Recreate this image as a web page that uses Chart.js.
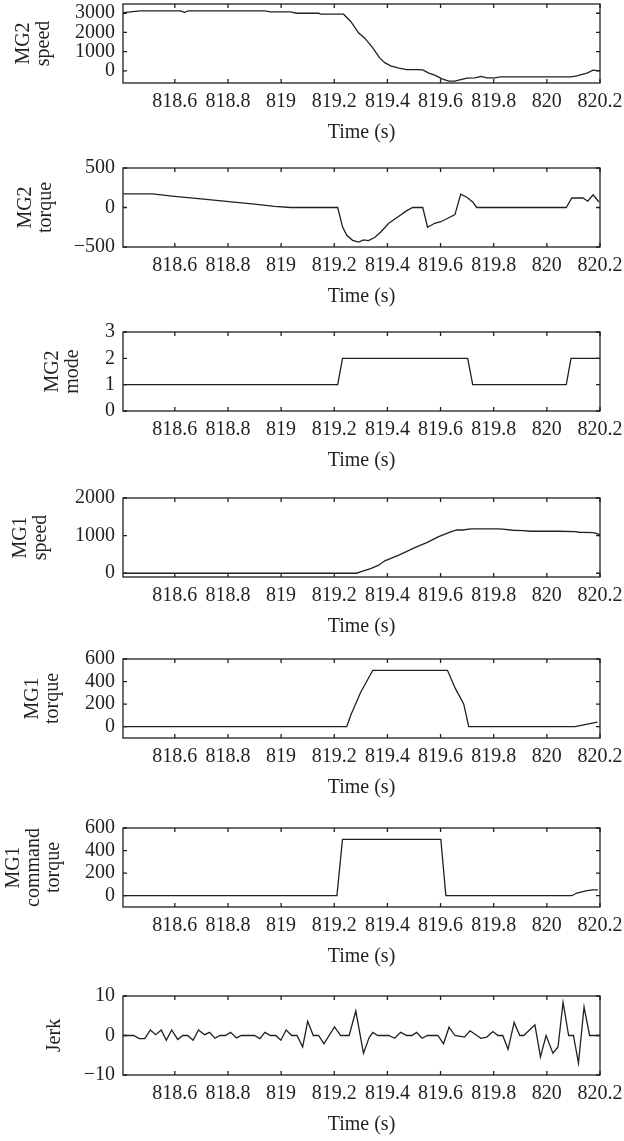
<!DOCTYPE html>
<html>
<head>
<meta charset="utf-8">
<script src="https://cdn.jsdelivr.net/npm/chart.js@4"></script>
<style>
    body { margin: 0; background: #fff; }
    #wrap { position: relative; width: 624px; height: 1141px; overflow: hidden; }
    #wrap canvas { position: absolute; left: 0; }
</style>
</head>
<body>
<div id="wrap"></div>
<script>
// time axis
const xMin = 818.405;
const xMax = 820.2;
const xTicks = [818.6, 818.8, 819, 819.2, 819.4, 819.6, 819.8, 820, 820.2];

// MG2 speed
const mg2SpeedT = [818.406, 818.47, 818.621, 818.636, 818.651, 818.938, 818.96, 819.036, 819.058, 819.141, 819.149, 819.235, 819.262, 819.292, 819.314, 819.345, 819.37, 819.39, 819.412, 819.443, 819.473, 819.51, 819.533, 819.556, 819.578, 819.608, 819.631, 819.654, 819.676, 819.699, 819.729, 819.752, 819.774, 819.804, 819.827, 820.091, 820.113, 820.151, 820.174, 820.2];
const mg2Speed = [3030, 3120, 3120, 3050, 3120, 3120, 3070, 3070, 3000, 3000, 2950, 2950, 2570, 1970, 1715, 1200, 690, 430, 260, 140, 70, 70, 50, -120, -220, -430, -530, -530, -460, -380, -360, -290, -360, -360, -310, -310, -260, -120, 35, 0];
const mg2SpeedTicks = [0, 1000, 2000, 3000];

// MG2 torque
const mg2TorqueT = [818.406, 818.516, 818.598, 818.689, 818.794, 818.9, 818.975, 819.036, 819.213, 819.231, 819.247, 819.269, 819.292, 819.31, 819.329, 819.352, 819.375, 819.405, 819.443, 819.473, 819.495, 819.533, 819.551, 819.578, 819.601, 819.631, 819.654, 819.676, 819.699, 819.721, 819.736, 820.073, 820.094, 820.136, 820.154, 820.174, 820.196];
const mg2Torque = [172, 172, 142, 112, 77, 43, 13, 0, 0, -245, -352, -416, -438, -410, -420, -380, -310, -200, -110, -40, 0, 0, -250, -200, -180, -130, -90, 170, 130, 70, 0, 0, 120, 120, 80, 160, 70];
const mg2TorqueTicks = [-500, 0, 500];

// MG2 mode
const mg2ModeT = [818.406, 819.213, 819.231, 819.702, 819.721, 820.073, 820.091, 820.2];
const mg2Mode = [1, 1, 2, 2, 1, 1, 2, 2];
const mg2ModeTicks = [0, 1, 2, 3];

// MG1 speed
const mg1SpeedT = [818.406, 819.284, 819.307, 819.337, 819.367, 819.39, 819.443, 819.503, 819.548, 819.593, 819.638, 819.661, 819.684, 819.714, 819.819, 819.834, 819.872, 819.91, 819.94, 820.045, 820.106, 820.121, 820.174, 820.189, 820.2];
const mg1Speed = [0, 0, 54, 125, 214, 330, 482, 679, 812, 973, 1098, 1150, 1150, 1180, 1180, 1170, 1143, 1134, 1116, 1116, 1107, 1090, 1080, 1054, 1018];
const mg1SpeedTicks = [0, 1000, 2000];

// MG1 torque
const mg1TorqueT = [818.406, 819.247, 819.262, 819.299, 819.345, 819.626, 819.654, 819.687, 819.706, 820.106, 820.19];
const mg1Torque = [0, 0, 101, 303, 500, 500, 346, 202, 0, 0, 40];
const mg1TorqueTicks = [0, 200, 400, 600];

// MG1 command torque
const mg1CmdT = [818.406, 819.21, 819.231, 819.601, 819.62, 820.094, 820.113, 820.151, 820.174, 820.192];
const mg1Cmd = [0, 0, 500, 500, 0, 0, 24, 45, 51, 51];
const mg1CmdTicks = [0, 200, 400, 600];

// jerk
const jerkT = [818.406, 818.445, 818.466, 818.487, 818.508, 818.528, 818.549, 818.568, 818.588, 818.611, 818.63, 818.648, 818.669, 818.689, 818.712, 818.731, 818.751, 818.77, 818.79, 818.81, 818.832, 818.85, 818.87, 818.9, 818.92, 818.939, 818.96, 818.98, 818.999, 819.019, 819.04, 819.06, 819.081, 819.1, 819.121, 819.141, 819.161, 819.201, 819.224, 819.256, 819.281, 819.31, 819.331, 819.345, 819.364, 819.405, 819.427, 819.45, 819.473, 819.492, 819.51, 819.53, 819.551, 819.59, 819.611, 819.632, 819.654, 819.69, 819.711, 819.752, 819.774, 819.797, 819.816, 819.834, 819.854, 819.877, 819.898, 819.913, 819.955, 819.976, 819.997, 820.023, 820.042, 820.061, 820.082, 820.1, 820.119, 820.14, 820.161, 820.2];
const jerk = [0, 0, -0.8, -0.8, 1.4, 0.2, 1.4, -1.2, 1.4, -1.0, 0, 0, -1.2, 1.4, 0.2, 0.8, -0.7, 0, 0, 0.8, -0.6, 0, 0, 0, -0.8, 0.8, 0, 0, -1.2, 1.4, 0, 0, -2.9, 3.6, 0, 0, -2.1, 2.2, 0, 0, 6.2, -4.5, -0.6, 0.8, 0, 0, -0.7, 0.8, 0, 0, 0.8, -0.7, 0, 0, -2.1, 2.1, 0, -0.4, 1.2, -0.7, -0.4, 1.0, 0, 0, -3.5, 3.3, 0, 0, 2.7, -5.4, 0, -4.5, -2.9, 8.4, 0, 0, -7.0, 7.2, 0, 0];
const jerkTicks = [-10, 0, 10];

const ink = "#231f20";
const fontFamily = "'Liberation Serif', 'DejaVu Serif', serif";
const plotLeft = 123;
const plotH = 79;
const padTop = 18;      // y tick label half height + tick padding
const xAxisH = 60;      // x tick labels + "Time (s)"

// frame with inward tick marks on all four sides
const boxPlugin = {
    id: "box",
    afterDraw: function (chart) {
        const ctx = chart.ctx;
        const a = chart.chartArea;
        const sx = chart.scales.x;
        const sy = chart.scales.y;
        const len = 4;
        ctx.save();
        ctx.strokeStyle = ink;
        ctx.lineWidth = 1.3;
        ctx.strokeRect(a.left, a.top, a.right - a.left, a.bottom - a.top);
        ctx.beginPath();
        sx.ticks.forEach(function (t) {
            const px = sx.getPixelForValue(t.value);
            ctx.moveTo(px, a.bottom);
            ctx.lineTo(px, a.bottom - len);
            ctx.moveTo(px, a.top);
            ctx.lineTo(px, a.top + len);
        });
        sy.ticks.forEach(function (t) {
            const py = sy.getPixelForValue(t.value);
            ctx.moveTo(a.left, py);
            ctx.lineTo(a.left + len, py);
            ctx.moveTo(a.right, py);
            ctx.lineTo(a.right - len, py);
        });
        ctx.stroke();
        ctx.restore();
    },
};

function fmt(v) {
    return String(+Number(v).toFixed(1)).replace("-", "\u2212");
}

function makePanel(top, t, v, yMin, yMax, yTicks, title, titlePad) {
    const canvas = document.createElement("canvas");
    canvas.width = 624;
    canvas.height = padTop + plotH + xAxisH;
    canvas.style.top = (top - padTop) + "px";
    document.getElementById("wrap").appendChild(canvas);

    const points = t.map((x, i) => ({ x: x, y: v[i] }));

    new Chart(canvas, {
        type: "line",
        data: {
            datasets: [
                {
                    data: points,
                    borderColor: ink,
                    borderWidth: 1.3,
                    pointRadius: 0,
                    tension: 0,
                    fill: false,
                },
            ],
        },
        options: {
            responsive: false,
            animation: false,
            devicePixelRatio: 1,
            layout: { padding: { top: padTop, right: 24, bottom: 0, left: 0 } },
            plugins: {
                legend: { display: false },
                tooltip: { enabled: false },
            },
            scales: {
                x: {
                    type: "linear",
                    min: xMin,
                    max: xMax,
                    grid: { display: false, drawTicks: false },
                    border: { display: false },
                    afterBuildTicks: function (scale) {
                        scale.ticks = xTicks.map((x) => ({ value: x }));
                    },
                    afterFit: function (scale) {
                        scale.paddingLeft = 0;
                        scale.paddingRight = 0;
                    },
                    ticks: {
                        color: ink,
                        padding: 9,
                        maxRotation: 0,
                        autoSkip: false,
                        font: { family: fontFamily, size: 20, lineHeight: 1 },
                        callback: fmt,
                    },
                    title: {
                        display: true,
                        text: "Time (s)",
                        color: ink,
                        padding: { top: 2, bottom: 0 },
                        font: { family: fontFamily, size: 20, lineHeight: 1 },
                    },
                },
                y: {
                    min: yMin,
                    max: yMax,
                    grid: { display: false, drawTicks: false },
                    border: { display: false },
                    afterBuildTicks: function (scale) {
                        scale.ticks = yTicks.map((y) => ({ value: y }));
                    },
                    afterFit: function (scale) {
                        scale.width = plotLeft;
                    },
                    ticks: {
                        color: ink,
                        padding: 8,
                        autoSkip: false,
                        font: { family: fontFamily, size: 20, lineHeight: 1 },
                        callback: fmt,
                    },
                    title: {
                        display: true,
                        text: title,
                        color: ink,
                        padding: { top: titlePad, bottom: 0 },
                        font: { family: fontFamily, size: 20, lineHeight: 1 },
                    },
                },
            },
        },
        plugins: [boxPlugin],
    });
}

document.addEventListener("DOMContentLoaded", function () {
    makePanel(4, mg2SpeedT, mg2Speed, -630, 3480, mg2SpeedTicks, ["MG2", "speed"], 14);
    makePanel(168, mg2TorqueT, mg2Torque, -500, 500, mg2TorqueTicks, ["MG2", "torque"], 16);
    makePanel(332, mg2ModeT, mg2Mode, 0, 3, mg2ModeTicks, ["MG2", "mode"], 43);
    makePanel(498, mg1SpeedT, mg1Speed, -100, 2000, mg1SpeedTicks, ["MG1", "speed"], 11);
    makePanel(659, mg1TorqueT, mg1Torque, -100, 600, mg1TorqueTicks, ["MG1", "torque"], 23);
    makePanel(828, mg1CmdT, mg1Cmd, -100, 600, mg1CmdTicks, ["MG1", "command", "torque"], 4);
    makePanel(996, jerkT, jerk, -10, 10, jerkTicks, ["Jerk"], 45);
});
</script>
</body>
</html>
